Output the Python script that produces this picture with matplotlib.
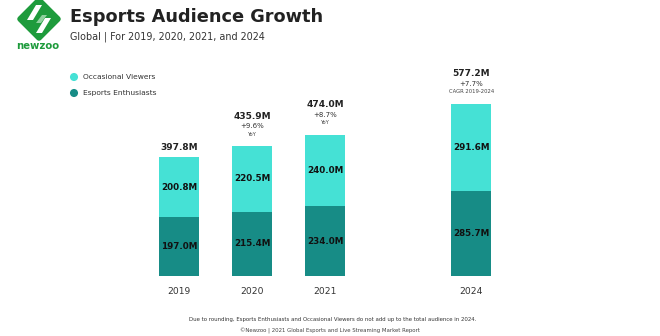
import matplotlib
matplotlib.use("Agg")
import matplotlib.pyplot as plt
from matplotlib.patches import Polygon

years = ["2019", "2020", "2021", "2024"]
xpos = [0, 1, 2, 4]
enthusiasts = [197.0, 215.4, 234.0, 285.7]
occasional = [200.8, 220.5, 240.0, 291.6]
totals = [397.8, 435.9, 474.0, 577.2]
growth = ["", "+9.6%", "+8.7%", "+7.7%"]
growth_note = ["", "YoY", "YoY", "CAGR 2019-2024"]
series_names = ["Occasional Viewers", "Esports Enthusiasts"]

LIGHT = "#45E1D5"
DARK = "#178C86"
TXT = "#222222"

W, H = 660, 336
fig = plt.figure(figsize=(W / 100, H / 100), dpi=100)
ax = fig.add_axes([0, 0, 1, 1])
ax.set_axis_off()

# pixel mapping: x=0 -> px 179, 1 unit = 73.1 px; y=0 -> px 276 from top, 0.298 px per M
x0, xu = 179.0, 73.1
y0, yu = 276.0, 0.298
ax.set_xlim(-x0 / xu, (W - x0) / xu)
ax.set_ylim(-(H - y0) / yu, y0 / yu)

def py(pix):  # pixel row -> data y
    return (y0 - pix) / yu

def px(pix):
    return (pix - x0) / xu

bw = 0.545
ax.bar(xpos, enthusiasts, width=bw, color=DARK, edgecolor="none")
ax.bar(xpos, occasional, width=bw, bottom=enthusiasts, color=LIGHT, edgecolor="none")

for x, e, o, t, g, n, yr in zip(xpos, enthusiasts, occasional, totals, growth, growth_note, years):
    ax.text(x, e / 2, f"{e:.1f}M", ha="center", va="center", fontsize=6.3,
            fontweight="bold", color="#111111")
    ax.text(x, e + o / 2, f"{o:.1f}M", ha="center", va="center", fontsize=6.3,
            fontweight="bold", color="#111111")
    top = e + o
    if g:
        ax.text(x, top + 12 / yu, n, ha="center", va="center", fontsize=3.8, color="#444444")
        ax.text(x, top + 20 / yu, g, ha="center", va="center", fontsize=5, color="#333333")
        ax.text(x, top + 30 / yu, f"{t:.1f}M", ha="center", va="center", fontsize=6.5,
                fontweight="bold", color=TXT)
    else:
        ax.text(x, top + 10 / yu, f"{t:.1f}M", ha="center", va="center", fontsize=6.5,
                fontweight="bold", color=TXT)
    ax.text(x, py(291), yr, ha="center", va="center", fontsize=6.6, color="#333333")

# Legend
for i, (name, col) in enumerate(zip(series_names, [LIGHT, DARK])):
    yy = 77 + 16 * i
    ax.scatter([px(74)], [py(yy)], s=34, color=col, edgecolors="none", zorder=5)
    ax.text(px(83), py(yy), name, ha="left", va="center", fontsize=5.4, color="#333333")

# Title
fig.text(70 / W, 1 - 17 / H, "Esports Audience Growth", ha="left", va="center",
         fontsize=12.8, fontweight="bold", color="#222222")
fig.text(70 / W, 1 - 37 / H, "Global | For 2019, 2020, 2021, and 2024", ha="left",
         va="center", fontsize=6.9, color="#333333")

# Logo
GREEN = "#1E9B3C"
cx, cy, r = 39, 19, 19
diamond = [(px(cx), py(cy - r)), (px(cx + r), py(cy)), (px(cx), py(cy + r)), (px(cx - r), py(cy))]
ax.add_patch(Polygon(diamond, closed=True, facecolor=GREEN, edgecolor=GREEN,
                     linewidth=4, joinstyle="round", zorder=3))
ax.add_patch(Polygon([(px(cx - 3), py(cy + 14)), (px(cx + 3), py(cy + 14)),
                      (px(cx + 12), py(cy - 1)), (px(cx + 6), py(cy - 1))],
                     closed=True, facecolor="white", edgecolor="none", zorder=4))
ax.add_patch(Polygon([(px(cx - 6), py(cy + 1)), (px(cx - 12), py(cy + 1)),
                      (px(cx - 3), py(cy - 14)), (px(cx + 3), py(cy - 14))],
                     closed=True, facecolor="white", edgecolor="none", zorder=4))
ax.add_patch(Polygon([(px(cx - 3), py(cy + 4)), (px(cx + 3), py(cy - 4)),
                      (px(cx + 8), py(cy - 4)), (px(cx + 2), py(cy + 4))],
                     closed=True, facecolor="#8FD19E", edgecolor="none", zorder=4))
fig.text(38 / W, 1 - 46 / H, "newzoo", ha="center", va="center", fontsize=7.3,
         fontweight="bold", color=GREEN)

# Footnotes
fig.text(333 / W, 1 - 319 / H,
         "Due to rounding, Esports Enthusiasts and Occasional Viewers do not add up to the total audience in 2024.",
         ha="center", va="center", fontsize=3.9, color="#333333")
fig.text(330 / W, 1 - 331 / H, "\u00a9Newzoo | 2021 Global Esports and Live Streaming Market Report",
         ha="center", va="center", fontsize=3.85, color="#444444")

fig.savefig("out.png", dpi=100)
